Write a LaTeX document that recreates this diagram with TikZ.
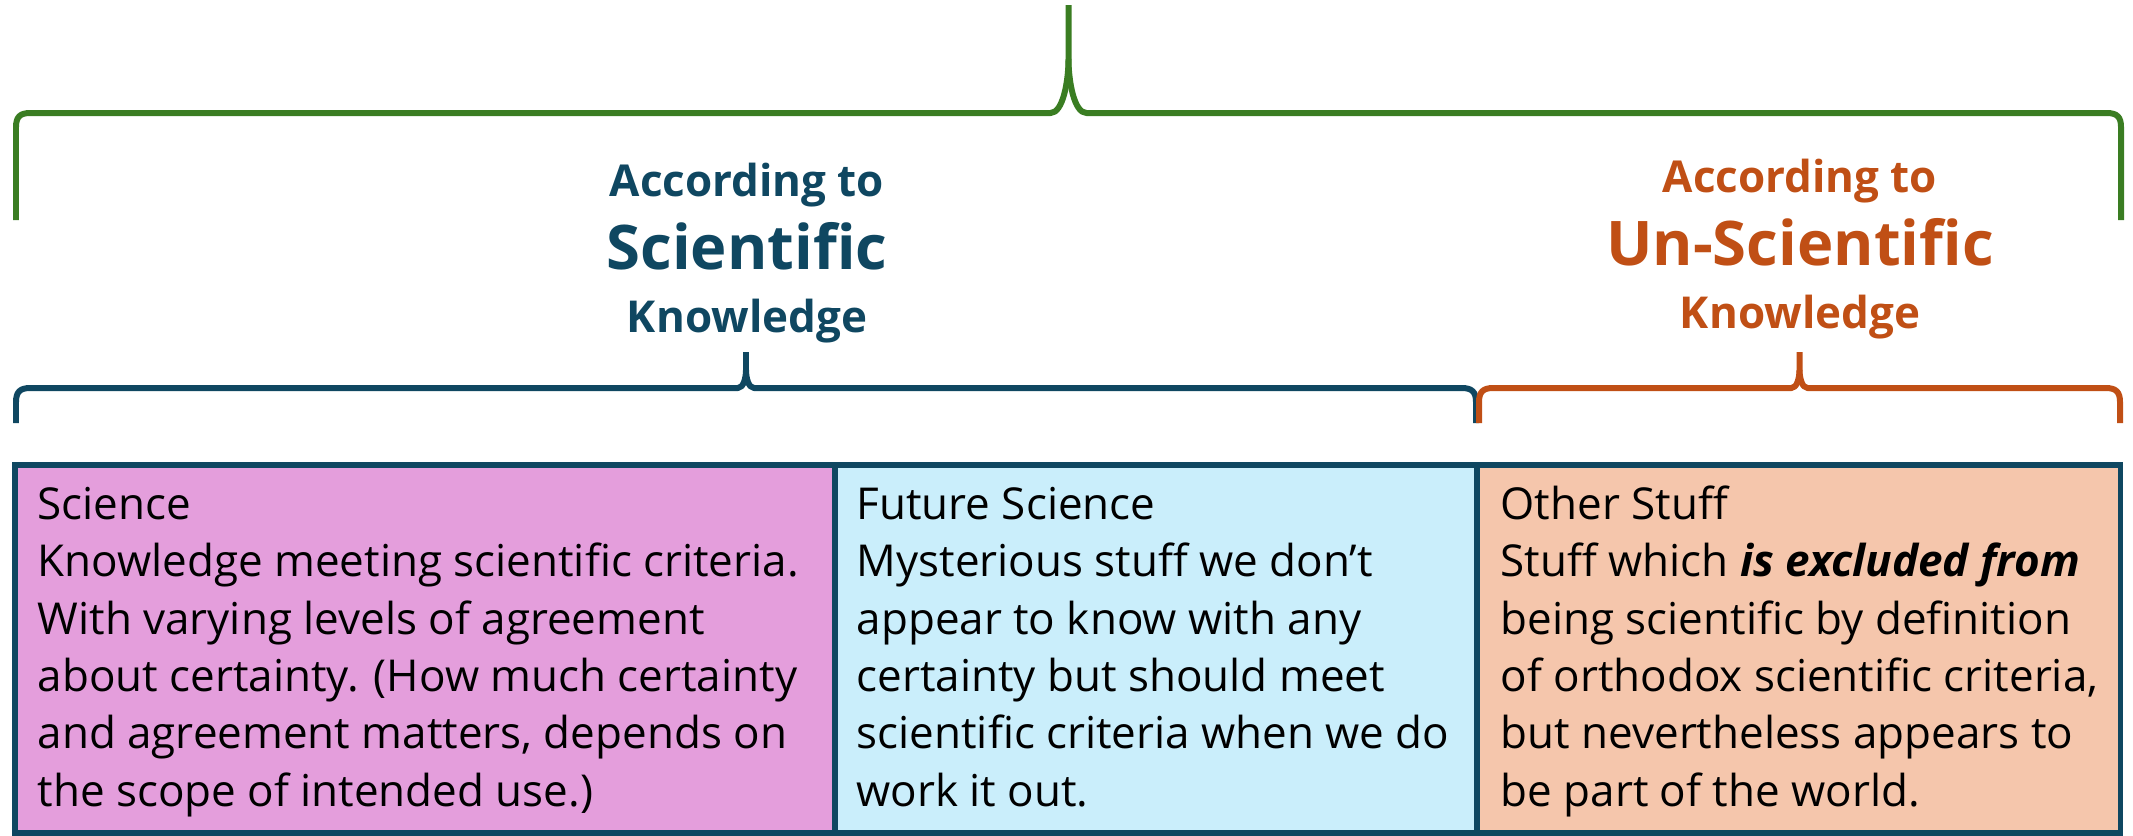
\documentclass[tikz,border=0pt]{standalone}
\usepackage{fontspec}
\setmainfont{Open Sans}
\usetikzlibrary{positioning}
\definecolor{KnowGreen}{HTML}{3A7D22}
\definecolor{KnowTeal}{HTML}{0F4761}
\definecolor{KnowOrange}{HTML}{C04F15}
\definecolor{SciPink}{HTML}{E49EDC}
\definecolor{FutureBlue}{HTML}{CAEEFB}
\definecolor{OtherPeach}{HTML}{F5C6AC}
\tikzset{
  bracepen/.style={line width=1.7pt, line cap=butt, line join=round},
  cellbox/.style={draw=KnowTeal, line width=1.6pt, anchor=north west,
                  inner sep=0pt, outer sep=0pt, minimum height=3.68cm},
  celltext/.style={anchor=base west, align=left, inner sep=0pt,
                   font=\fontsize{12.5}{16.3}\selectfont},
  headtext/.style={anchor=base, align=center, inner sep=0pt,
                   font=\fontsize{12.5}{20.8}\selectfont\bfseries},
}
\newcommand\bigword[1]{{\fontsize{17.5}{20.8}\selectfont #1}}
% brace: colour, left x, right x, end y, bar y, tip y, tip width
\newcommand\knowbrace[7]{%
  \pgfmathsetmacro\xm{(#2+#3)/2}%
  \pgfmathsetmacro\ym{(#5+#6)/2}%
  \pgfmathsetmacro\yc{#5-0.3*(#5-#6)}%
  \draw[bracepen, #1] (#2,#4) -- (#2,#5+14) .. controls (#2,#5+4) and (#2+4,#5) .. (#2+14,#5)
    -- (\xm-#7,#5) .. controls (\xm-0.3*#7,#5) and (\xm,\yc) .. (\xm,\ym) -- (\xm,#6);
  \draw[bracepen, #1] (\xm,\ym) .. controls (\xm,\yc) and (\xm+0.3*#7,#5) .. (\xm+#7,#5)
    -- (#3-14,#5) .. controls (#3-4,#5) and (#3,#5+4) .. (#3,#5+14) -- (#3,#4);
}

\begin{document}
\begin{tikzpicture}[x=0.01cm, y=-0.01cm]
  \useasboundingbox (0,0) rectangle (2133,835);

  % the three kinds of stuff
  \node[cellbox, fill=SciPink, minimum width=8.20cm] (science) at (15,465) {};
  \node[cellbox, fill=FutureBlue, minimum width=6.42cm] (future) at (835,465) {};
  \node[cellbox, fill=OtherPeach, minimum width=6.43cm] (other) at (1477,465) {};

  % base anchor sits on the last line
  \node[celltext] (scienceText) at (37,806) {Science\\Knowledge meeting scientific criteria.\\With varying levels of agreement\\about certainty. (How much certainty\\and agreement matters, depends on\\the scope of intended use.)};
  \node[celltext] (futureText) at (856,806) {Future Science\\Mysterious stuff we don’t\\appear to know with any\\certainty but should meet\\scientific criteria when we do\\work it out.};
  \node[celltext] (otherText) at (1500,806) {Other Stuff\\Stuff which \textbf{\textit{is excluded from}}\\being scientific by definition\\of orthodox scientific criteria,\\but nevertheless appears to\\be part of the world.};

  % headings
  \node[headtext, text=KnowTeal] (sciHead) at (747,332) {According to\\\bigword{Scientific}\\[-3pt]Knowledge};
  \node[headtext, text=KnowOrange] (unsciHead) at (1800,328) {According to\\\bigword{Un-Scientific}\\[-3pt]Knowledge};

  % braces
  \knowbrace{KnowGreen}{16}{2121}{220}{113}{5}{18}
  \knowbrace{KnowTeal}{16}{1476}{423}{388}{352}{8}
  \knowbrace{KnowOrange}{1479}{2120}{423}{388}{352}{8}
\end{tikzpicture}
\end{document}
